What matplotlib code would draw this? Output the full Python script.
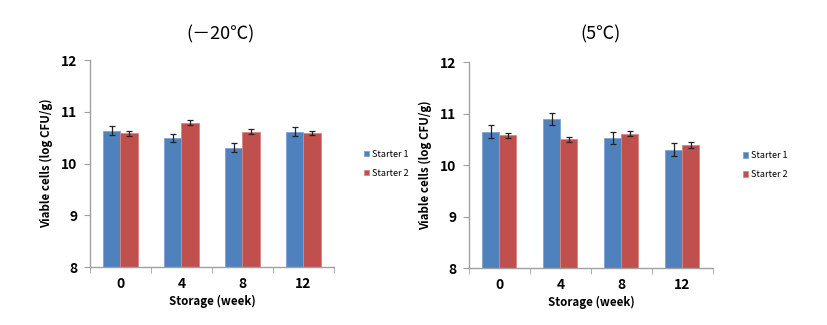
import numpy as np
import matplotlib.pyplot as plt

plt.rcParams['font.family'] = ['Noto Sans CJK KR', 'DejaVu Sans']

weeks = ['0', '4', '8', '12']
series = ['Starter 1', 'Starter 2']

# -20C
frozen_s1 = [10.64, 10.49, 10.31, 10.62]
frozen_s1_err = [0.09, 0.08, 0.08, 0.08]
frozen_s2 = [10.59, 10.79, 10.62, 10.59]
frozen_s2_err = [0.05, 0.045, 0.05, 0.045]

# 5C
cold_s1 = [10.65, 10.89, 10.52, 10.30]
cold_s1_err = [0.12, 0.12, 0.12, 0.12]
cold_s2 = [10.58, 10.50, 10.61, 10.39]
cold_s2_err = [0.05, 0.055, 0.045, 0.05]

blue = '#4F81BD'
red = '#C0504D'


def draw(ax, s1, e1, s2, e2):
    x = np.arange(len(weeks))
    w = 0.28
    ax.bar(x - w / 2, s1, w, color=blue, edgecolor='#7FA3D3', linewidth=0.6,
           yerr=e1, capsize=2.5, error_kw=dict(elinewidth=0.9, ecolor='#222222', capthick=0.9),
           label=series[0])
    ax.bar(x + w / 2, s2, w, color=red, edgecolor='#D88684', linewidth=0.6,
           yerr=e2, capsize=2.5, error_kw=dict(elinewidth=0.9, ecolor='#222222', capthick=0.9),
           label=series[1])
    ax.set_xlim(-0.5, 3.5)
    ax.set_ylim(8, 12)
    ax.set_yticks([8, 9, 10, 11, 12])
    ax.set_xticks(x)
    ax.set_xticklabels(weeks, fontsize=10, fontweight='bold')
    ax.set_xticks([-0.5, 0.5, 1.5, 2.5, 3.5], minor=True)
    ax.tick_params(axis='x', which='major', length=0, pad=7)
    ax.tick_params(axis='x', which='minor', length=4, color='#A0A0A0', direction='out')
    ax.tick_params(axis='y', length=4, color='#A0A0A0', direction='out', labelsize=10, pad=5)
    for lab in ax.get_yticklabels():
        lab.set_fontweight('bold')
    for s in ['top', 'right']:
        ax.spines[s].set_visible(False)
    for s in ['left', 'bottom']:
        ax.spines[s].set_color('#A0A0A0')
        ax.spines[s].set_linewidth(1.0)
    ax.set_xlabel('Storage (week)', fontsize=8.3, fontweight='bold', labelpad=3)
    ax.set_ylabel('Viable cells (log CFU/g)', fontsize=8.3, fontweight='bold', labelpad=6)
    ax.legend(loc='center left', bbox_to_anchor=(1.09, 0.5), frameon=False, fontsize=6.5,
              handlelength=0.6, handleheight=0.6, handletextpad=0.25, labelspacing=1.1)


fig = plt.figure(figsize=(8.27, 3.25), dpi=100)
ax1 = fig.add_axes([0.1088, 0.178, 0.295, 0.637])
ax2 = fig.add_axes([0.567, 0.175, 0.295, 0.634])
draw(ax1, frozen_s1, frozen_s1_err, frozen_s2, frozen_s2_err)
draw(ax2, cold_s1, cold_s1_err, cold_s2, cold_s2_err)

fig.text(221 / 827, 1 - 34 / 325, '(－20℃)', ha='center', va='center', fontsize=13)
fig.text(601 / 827, 1 - 34 / 325, '(5℃)', ha='center', va='center', fontsize=13)

fig.savefig('out.png', dpi=100)
